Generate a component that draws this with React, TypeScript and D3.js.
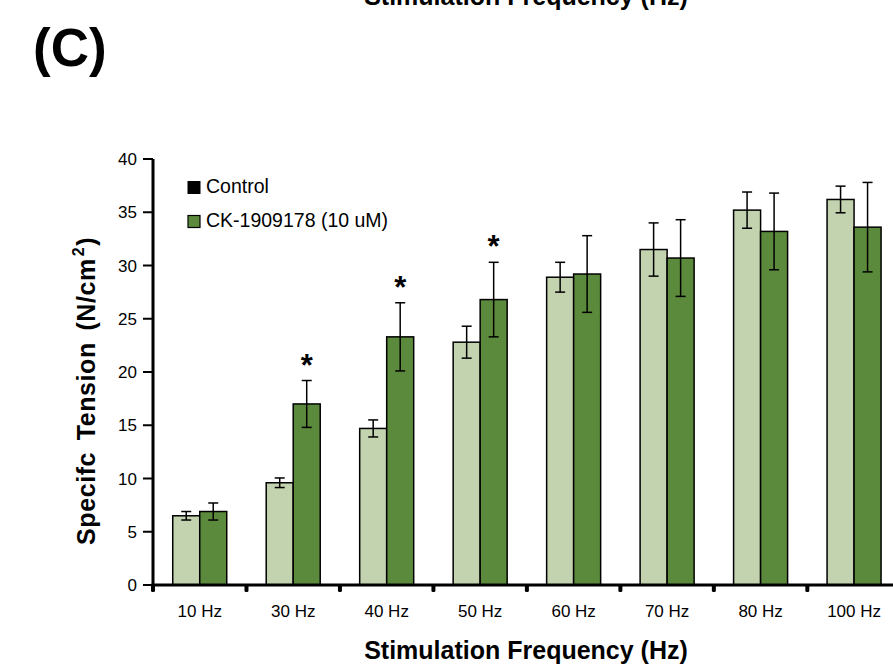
import React from "react";
import * as d3 from "d3";

const categories = ["10 Hz", "30 Hz", "40 Hz", "50 Hz", "60 Hz", "70 Hz", "80 Hz", "100 Hz"];
const controlMeans = [6.5, 9.6, 14.7, 22.8, 28.9, 31.5, 35.2, 36.2];
const controlErrors = [0.4, 0.45, 0.8, 1.5, 1.4, 2.5, 1.7, 1.25];
const ckMeans = [6.9, 17.0, 23.3, 26.8, 29.2, 30.7, 33.2, 33.6];
const ckErrors = [0.8, 2.2, 3.2, 3.5, 3.6, 3.6, 3.6, 4.2];
const significant = [false, true, true, true, false, false, false, false];
const yTicks = [0, 5, 10, 15, 20, 25, 30, 35, 40];
const seriesNames = ["Control", "CK-1909178 (10 uM)"];

const W = 893;
const H = 665;
const FONT = "'Liberation Sans', Arial, Helvetica, sans-serif";
const LIGHT = "#c4d3af";
const DARK = "#5c8a3c";

export default function App() {
  const x = d3.scaleBand<string>().domain(categories).range([153, 900.8]).paddingInner(0).paddingOuter(0);
  const y = d3.scaleLinear().domain([0, 40]).range([585, 159]);
  const barW = 27;
  const capW = 10;

  const series = [
    { means: controlMeans, errs: controlErrors, fill: LIGHT, offset: -barW },
    { means: ckMeans, errs: ckErrors, fill: DARK, offset: 0 },
  ];

  return (
    <svg width={W} height={H} style={{ position: "absolute", left: 0, top: 0, background: "#fff" }} fontFamily={FONT}>
      {/* panel label */}
      <text x={33} y={66} fontSize={53} fontWeight="bold" fill="#000">(C)</text>
      {/* cut-off title from panel above */}
      <text x={526} y={5} fontSize={25} fontWeight="bold" textAnchor="middle" fill="#000">Stimulation Frequency (Hz)</text>

      {/* bars */}
      {series.map((s, si) =>
        categories.map((c, i) => {
          const cx = (x(c) as number) + x.bandwidth() / 2 + s.offset;
          return (
            <rect key={`b${si}-${i}`} x={cx} y={y(s.means[i])} width={barW} height={y(0) - y(s.means[i])}
              fill={s.fill} stroke="#000" strokeWidth={1.5} />
          );
        })
      )}
      {/* error bars */}
      {series.map((s, si) =>
        categories.map((c, i) => {
          const cx = (x(c) as number) + x.bandwidth() / 2 + s.offset + barW / 2;
          const hi = y(s.means[i] + s.errs[i]);
          const lo = y(s.means[i] - s.errs[i]);
          return (
            <g key={`e${si}-${i}`} stroke="#000" strokeWidth={1.5}>
              <line x1={cx} x2={cx} y1={hi} y2={lo} />
              <line x1={cx - capW / 2} x2={cx + capW / 2} y1={hi} y2={hi} />
              <line x1={cx - capW / 2} x2={cx + capW / 2} y1={lo} y2={lo} />
            </g>
          );
        })
      )}
      {/* significance stars */}
      {categories.map((c, i) =>
        significant[i] ? (
          <text key={`s${i}`} x={(x(c) as number) + x.bandwidth() / 2 + barW / 2} y={y(ckMeans[i] + ckErrors[i]) - 5}
            fontSize={31} fontWeight="bold" textAnchor="middle" fill="#000">*</text>
        ) : null
      )}

      {/* y axis */}
      <line x1={153} x2={153} y1={y(40)} y2={y(0) + 1.5} stroke="#000" strokeWidth={3} />
      {yTicks.map((t) => (
        <g key={`yt${t}`}>
          <line x1={143} x2={153} y1={y(t)} y2={y(t)} stroke="#000" strokeWidth={2} />
          <text x={137} y={y(t)} dy="0.36em" fontSize={17} textAnchor="end" fill="#000">{t}</text>
        </g>
      ))}
      {/* x axis */}
      <line x1={151.5} x2={W} y1={y(0)} y2={y(0)} stroke="#000" strokeWidth={3} />
      {categories.map((c, i) => (
        <rect key={`xt${i}`} x={(x(c) as number) - 2} y={y(0)} width={4} height={7} rx={1.5} fill="#000" />
      ))}
      {categories.map((c) => (
        <text key={`xl${c}`} x={(x(c) as number) + x.bandwidth() / 2} y={617} fontSize={17} textAnchor="middle" fill="#000">{c}</text>
      ))}

      {/* axis titles */}
      <text x={526} y={659} fontSize={25} fontWeight="bold" textAnchor="middle" fill="#000">Stimulation Frequency (Hz)</text>
      <text transform="translate(95,545) rotate(-90)" fontSize={25} fontWeight="bold" fill="#000"
        letterSpacing={0.6} wordSpacing={4}>
        <tspan>Specifc Tension (N/cm</tspan>
        <tspan dx={2} dy={-11} fontSize={16}>2</tspan>
        <tspan dx={1} dy={11}>)</tspan>
      </text>

      {/* legend */}
      <rect x={188} y={181.5} width={12} height={12} fill="#000" stroke="#000" strokeWidth={1} />
      <text x={206} y={193} fontSize={19.5} fill="#000">{seriesNames[0]}</text>
      <rect x={188} y={215.5} width={12} height={12} fill={DARK} stroke="#000" strokeWidth={1.2} />
      <text x={206} y={227} fontSize={19.5} fill="#000">{seriesNames[1]}</text>
    </svg>
  );
}
